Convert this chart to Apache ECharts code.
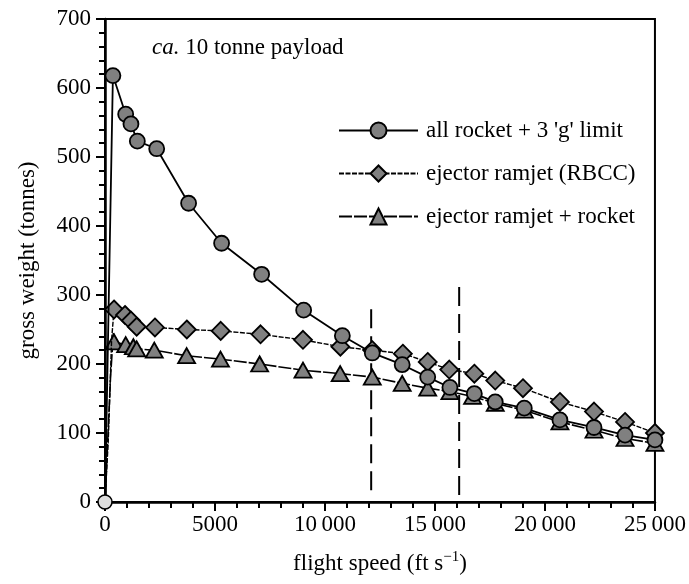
<!DOCTYPE html>
<html>
<head>
<meta charset="utf-8">
<script src="https://cdn.jsdelivr.net/npm/echarts@6/dist/echarts.min.js"></script>
<style>
  html, body { margin: 0; padding: 0; background: #fff; }
  #chart { width: 689px; height: 584px; }
</style>
</head>
<body>
<div id="chart"></div>
<script>
// flight speed (ft/s) and gross weight (tonnes) for each vehicle concept
const rocketSpeed  = [360, 940, 1180, 1470, 2350, 3800, 5300, 7120, 9030, 10790, 12150, 13510, 14670, 15680, 16790, 17740, 19060, 20680, 22230, 23640, 25000];
const rocketWeight = [618, 562, 548, 523, 512, 433, 375, 330, 278, 241, 216, 199, 181, 166, 157, 145, 136, 119, 108, 97, 90];

const rbccSpeed  = [410, 910, 1180, 1440, 2270, 3720, 5260, 7070, 9000, 10700, 12150, 13540, 14670, 15650, 16790, 17740, 19000, 20680, 22230, 23640, 25000];
const rbccWeight = [279, 271, 263, 254, 253, 250, 248, 243, 235, 225, 220, 215, 203, 192, 186, 176, 165, 145, 131, 116, 100];

const ejrSpeed  = [410, 940, 1290, 1440, 2240, 3710, 5250, 7030, 9000, 10690, 12150, 13510, 14670, 15680, 16710, 17740, 19060, 20680, 22230, 23640, 25000];
const ejrWeight = [232, 228, 225, 222, 220, 212, 207, 200, 191, 186, 181, 172, 165, 160, 153, 143, 133, 116, 104, 92, 85];

// unmarked climb-out points between the origin and the first marker
const rocketLeadSpeed = [];
const rocketLeadWeight = [];
const rbccLeadSpeed  = [150, 300];
const rbccLeadWeight = [90, 235];
const ejrLeadSpeed  = [250, 380];
const ejrLeadWeight = [180, 245];

// staging speeds shown as dashed verticals
const stageSpeeds = [12100, 16100];
const stageLow  = [17, 10];
const stageHigh = [283, 312];

const seriesNames = ["all rocket + 3 'g' limit", 'ejector ramjet (RBCC)', 'ejector ramjet + rocket'];
const xTicks = [0, 5000, 10000, 15000, 20000, 25000];
const yTicks = [0, 100, 200, 300, 400, 500, 600, 700];

const FONT = '"Liberation Serif", "Times New Roman", serif';
const FS = 23;
const GREY = '#808080';

function buildData(speeds, weights, leadS, leadW, originStyle) {
  const out = [{ value: [0, 0], symbol: originStyle.symbol, symbolSize: originStyle.size,
                 itemStyle: { color: originStyle.color, borderColor: originStyle.border, borderWidth: 1.5 } }];
  leadS.forEach((s, i) => out.push({ value: [s, leadW[i]], symbol: 'none' }));
  speeds.forEach((s, i) => out.push([s, weights[i]]));
  return out;
}

// five-digit speeds are printed with a thin space after the thousands pair
function speedLabel(v) {
  const s = String(v);
  return s.length > 4 ? s.slice(0, s.length - 3) + '\u2009' + s.slice(s.length - 3) : s;
}

const chart = echarts.init(document.getElementById('chart'), null, { renderer: 'canvas' });

const option = {
  animation: false,
  backgroundColor: '#fff',
  textStyle: { fontFamily: FONT, color: '#000' },
  grid: { left: 105, right: 32, top: 19, bottom: 82, show: true, borderColor: '#000', borderWidth: 2, backgroundColor: 'transparent' },
  xAxis: {
    type: 'value', min: xTicks[0], max: xTicks[xTicks.length - 1], interval: 5000,
    name: 'flight speed (ft s{sup|\u22121})', nameLocation: 'middle', nameGap: 48,
    nameTextStyle: { fontFamily: FONT, fontSize: FS, color: '#000',
      rich: { sup: { fontFamily: FONT, fontSize: 15, verticalAlign: 'top', padding: [0, 0, 12, 0] } } },
    axisLine: { show: true, lineStyle: { color: '#000', width: 2.5 } },
    axisTick: { show: true, inside: false, length: 9, lineStyle: { color: '#000', width: 2 } },
    minorTick: { show: true, splitNumber: 5, length: 6, lineStyle: { color: '#000', width: 2 } },
    splitLine: { show: false },
    axisLabel: { fontFamily: FONT, fontSize: FS, color: '#000', margin: 11, formatter: speedLabel }
  },
  yAxis: {
    type: 'value', min: yTicks[0], max: yTicks[yTicks.length - 1], interval: 100,
    name: 'gross weight (tonnes)', nameLocation: 'middle', nameGap: 66, nameRotate: 90,
    nameTextStyle: { fontFamily: FONT, fontSize: FS, color: '#000' },
    axisLine: { show: true, lineStyle: { color: '#000', width: 2.5 } },
    axisTick: { show: true, inside: false, length: 9, lineStyle: { color: '#000', width: 2 } },
    minorTick: { show: true, splitNumber: 5, length: 6, lineStyle: { color: '#000', width: 2 } },
    splitLine: { show: false },
    axisLabel: { fontFamily: FONT, fontSize: FS, color: '#000', margin: 14 }
  },
  legend: {
    orient: 'vertical', left: 333, top: 114,
    itemWidth: 79, itemHeight: 20, itemGap: 20,
    textStyle: { fontFamily: FONT, fontSize: FS, color: '#000', padding: [0, 0, 0, 3] },
    data: [seriesNames[0], seriesNames[1], seriesNames[2]]
  },
  graphic: [{
    type: 'text', left: 152, top: 36,
    style: {
      text: '{i|ca.} 10 tonne payload',
      font: FS + 'px ' + FONT, fill: '#000',
      rich: { i: { fontFamily: FONT, fontSize: FS, fontStyle: 'italic' } }
    }
  }],
  series: [
    {
      name: 'stage1', type: 'line', silent: true, symbol: 'none', z: 1,
      data: [[stageSpeeds[0], stageLow[0]], [stageSpeeds[0], stageHigh[0]]],
      lineStyle: { color: '#000', width: 2, type: [19, 8] }
    },
    {
      name: 'stage2', type: 'line', silent: true, symbol: 'none', z: 1,
      data: [[stageSpeeds[1], stageLow[1]], [stageSpeeds[1], stageHigh[1]]],
      lineStyle: { color: '#000', width: 2, type: [19, 8] }
    },
    {
      name: seriesNames[2], type: 'line', z: 2, clip: false,
      symbol: 'triangle', symbolSize: [17, 15],
      data: buildData(ejrSpeed, ejrWeight, ejrLeadSpeed, ejrLeadWeight, { symbol: 'triangle', size: 8, color: '#4b3b9a', border: '#4b3b9a' }),
      lineStyle: { color: '#000', width: 1.6, type: [13, 2] },
      itemStyle: { color: GREY, borderColor: '#000', borderWidth: 1.8 }
    },
    {
      name: seriesNames[1], type: 'line', z: 3, clip: false,
      symbol: 'diamond', symbolSize: [18, 18],
      data: buildData(rbccSpeed, rbccWeight, rbccLeadSpeed, rbccLeadWeight, { symbol: 'diamond', size: 10, color: '#e0552a', border: '#e0552a' }),
      lineStyle: { color: '#000', width: 1.4, type: [5, 1.5] },
      itemStyle: { color: GREY, borderColor: '#000', borderWidth: 1.8 }
    },
    {
      name: seriesNames[0], type: 'line', z: 4, clip: false,
      symbol: 'circle', symbolSize: 15,
      data: buildData(rocketSpeed, rocketWeight, rocketLeadSpeed, rocketLeadWeight, { symbol: 'circle', size: 14, color: '#dddddd', border: '#000' }),
      lineStyle: { color: '#000', width: 1.8 },
      itemStyle: { color: GREY, borderColor: '#000', borderWidth: 1.8 }
    }
  ]
};

chart.setOption(option);
</script>
</body>
</html>
